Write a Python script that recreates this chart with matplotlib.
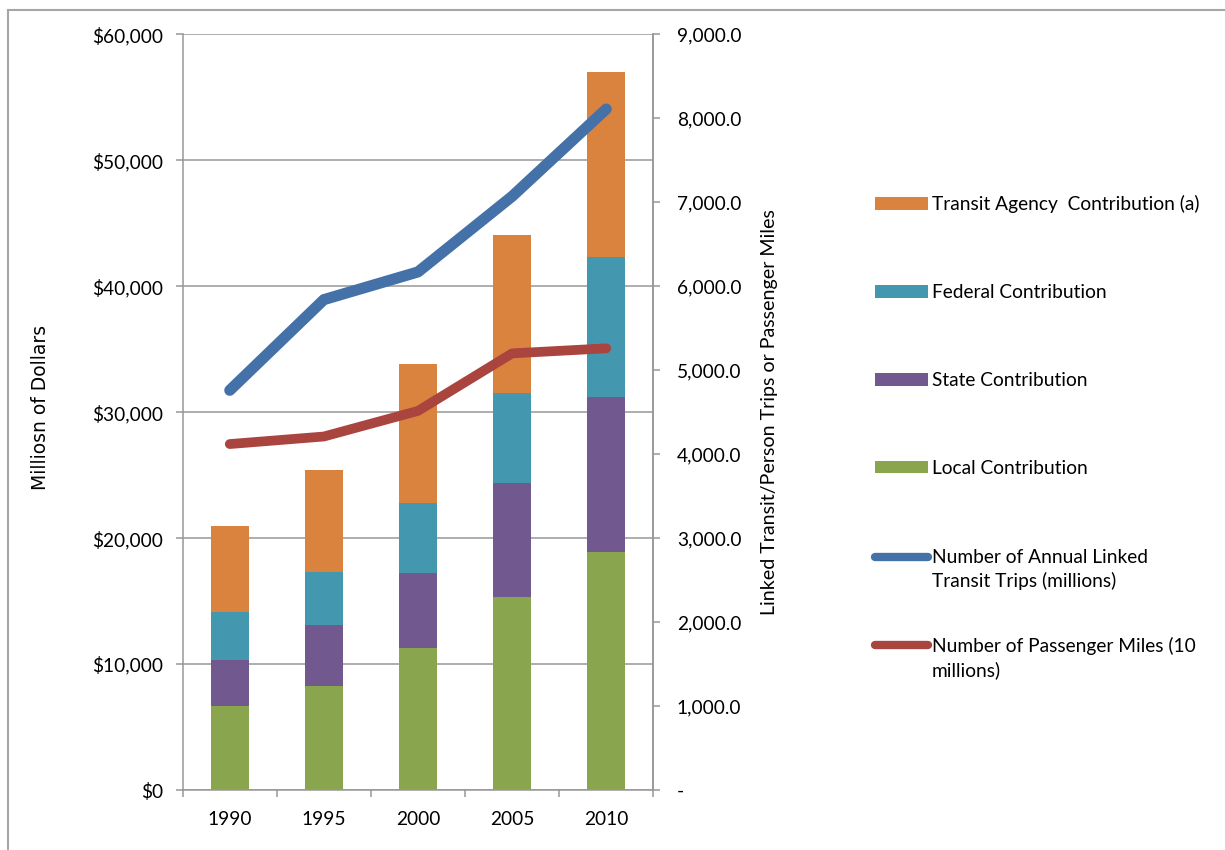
import numpy as np
import matplotlib
matplotlib.use("Agg")
import matplotlib.pyplot as plt
from matplotlib.lines import Line2D
from matplotlib.legend_handler import HandlerLine2D
from matplotlib.ticker import FuncFormatter, MultipleLocator, FixedLocator

# ---- data ----
years = ['1990', '1995', '2000', '2005', '2010']
local_contrib = [6670, 8260, 11280, 15330, 18930]
state_contrib = [3660, 4850, 5980, 9030, 12310]
federal_contrib = [3830, 4230, 5540, 7150, 11040]
agency_contrib = [6790, 8100, 11010, 12570, 14700]
linked_trips = [4760, 5840, 6170, 7070, 8110]
passenger_miles = [4120, 4210, 4515, 5200, 5260]

labels_bars = ['Transit Agency  Contribution (a)', 'Federal Contribution',
               'State Contribution', 'Local Contribution']
labels_lines = ['Number of Annual Linked\nTransit Trips (millions)',
                'Number of Passenger Miles (10\nmillions)']

c_agency = '#DA833F'
c_federal = '#4398AF'
c_state = '#71588F'
c_local = '#89A54E'
c_blue = '#4471A7'
c_red = '#A9443F'
grid_c = '#979797'

plt.rcParams['font.family'] = ['Lato', 'DejaVu Sans']
FS = 13.8
plt.rcParams['font.size'] = FS

W, H = 1225, 850
fig = plt.figure(figsize=(W / 100, H / 100), dpi=100)
ax = fig.add_axes([182.7 / W, 1 - 790 / H, (653.3 - 182.7) / W, (790 - 34.3) / H])

x = np.arange(len(years))
bw = 0.4
local_a = np.array(local_contrib)
state_a = np.array(state_contrib)
fed_a = np.array(federal_contrib)
ag_a = np.array(agency_contrib)

b_local = ax.bar(x, local_a, bw, color=c_local, zorder=2)
b_state = ax.bar(x, state_a, bw, bottom=local_a, color=c_state, zorder=2)
b_fed = ax.bar(x, fed_a, bw, bottom=local_a + state_a, color=c_federal, zorder=2)
b_ag = ax.bar(x, ag_a, bw, bottom=local_a + state_a + fed_a, color=c_agency, zorder=2)

ax.set_xlim(-0.5, len(years) - 0.5)
ax.set_ylim(0, 60000)
ax.yaxis.set_major_locator(MultipleLocator(10000))
ax.yaxis.set_major_formatter(FuncFormatter(lambda v, p: '${:,.0f}'.format(v)))
ax.grid(axis='y', color=grid_c, linewidth=1.1, zorder=0)
ax.set_axisbelow(True)

# x ticks at category boundaries, labels at centers
ax.xaxis.set_major_locator(FixedLocator(np.arange(len(years) + 1) - 0.5))
ax.xaxis.set_major_formatter(FuncFormatter(lambda v, p: ''))
ax.set_xticks(x, years, minor=True)
ax.tick_params(axis='x', which='major', direction='out', length=5, width=1.1, color=grid_c)
ax.tick_params(axis='x', which='minor', length=0, pad=15, labelsize=FS)
ax.tick_params(axis='y', direction='out', length=5, width=1.1, color=grid_c, pad=9, labelsize=FS)

ax.spines['top'].set_visible(False)
for s in ['left', 'bottom', 'right']:
    ax.spines[s].set_color(grid_c)
    ax.spines[s].set_linewidth(1.1)

ax2 = ax.twinx()
ax2.set_ylim(0, 9000)
ax2.yaxis.set_major_locator(MultipleLocator(1000))
ax2.yaxis.set_major_formatter(FuncFormatter(lambda v, p: '-' if v == 0 else '{:,.1f}'.format(v)))
ax2.tick_params(axis='y', direction='out', length=5, width=1.1, color=grid_c, pad=12, labelsize=FS)
for s in ['top', 'left', 'bottom']:
    ax2.spines[s].set_visible(False)
ax2.spines['right'].set_color(grid_c)
ax2.spines['right'].set_linewidth(1.1)

l_blue, = ax2.plot(x, linked_trips, color=c_blue, lw=8, solid_capstyle='round',
                   solid_joinstyle='round', zorder=3)
l_red, = ax2.plot(x, passenger_miles, color=c_red, lw=7, solid_capstyle='round',
                  solid_joinstyle='round', zorder=3)

# axis titles
fig.text(40 / W, 1 - 407 / H, 'Milliosn of Dollars', rotation=90, ha='center', va='center',
         fontsize=13.5, family=['Liberation Sans Narrow', 'DejaVu Sans'])
fig.text(770 / W, 1 - 412 / H, 'Linked Transit/Person Trips or Passenger Miles', rotation=90,
         ha='center', va='center', fontsize=14.1)


class FirstLineHandler(HandlerLine2D):
    def __init__(self, shift, **kw):
        super().__init__(**kw)
        self.shift = shift

    def create_artists(self, legend, orig_handle, xdescent, ydescent, width, height,
                       fontsize, trans):
        arts = super().create_artists(legend, orig_handle, xdescent, ydescent, width,
                                      height, fontsize, trans)
        for a in arts:
            a.set_ydata(np.asarray(a.get_ydata(), float) + self.shift)
        return arts


leg1 = fig.legend([b_ag, b_fed, b_state, b_local], labels_bars, loc='upper left',
                  bbox_to_anchor=(875 / W, 1 - 195 / H), frameon=False, borderpad=0,
                  borderaxespad=0, handlelength=2.75, handleheight=0.65,
                  handletextpad=0.22, labelspacing=3.7, fontsize=FS)
leg2 = fig.legend([l_blue, l_red], labels_lines, loc='upper left',
                  bbox_to_anchor=(875 / W, 1 - 549 / H), frameon=False, borderpad=0,
                  borderaxespad=0, handlelength=2.75, handletextpad=0.22,
                  labelspacing=2.45, fontsize=FS,
                  handler_map={l_blue: FirstLineHandler(9.5), l_red: FirstLineHandler(9.5)})
for t in leg2.get_texts():
    t.set_linespacing(1.4)
for h in leg2.legend_handles:
    h.set_linewidth(6)

# outer frame (top and left edges visible in the reference)
fig.add_artist(Line2D([7.5 / W, 7.5 / W], [0, 1 - 9.5 / H], color='#A6A6A6', lw=1.5))
fig.add_artist(Line2D([7.5 / W, 1], [1 - 9.5 / H, 1 - 9.5 / H], color='#A6A6A6', lw=1.5))

fig.savefig('out.png', dpi=100, facecolor='white')
